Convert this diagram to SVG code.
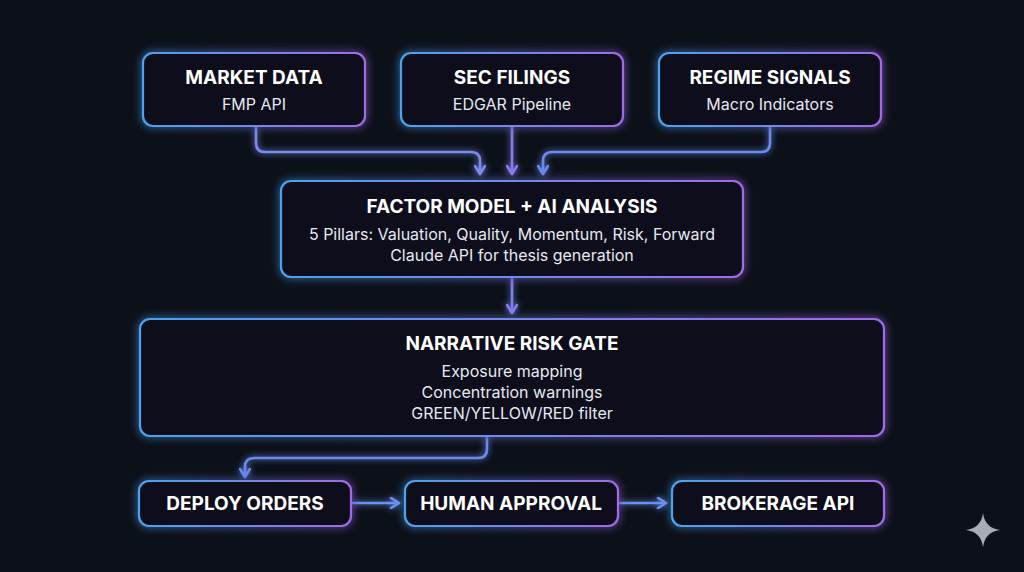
<svg xmlns="http://www.w3.org/2000/svg" width="1024" height="572" viewBox="0 0 1024 572">
<defs>
<linearGradient id="g" x1="0" y1="0" x2="1" y2="0"><stop offset="0" stop-color="#4aa3f0"/><stop offset="1" stop-color="#a06ae8"/></linearGradient>
<filter id="glow" x="-20%" y="-40%" width="140%" height="180%"><feGaussianBlur in="SourceGraphic" stdDeviation="4" result="b"/><feMerge><feMergeNode in="b"/><feMergeNode in="SourceGraphic"/></feMerge></filter>
<filter id="glowL" filterUnits="userSpaceOnUse" x="0" y="0" width="1024" height="572"><feGaussianBlur in="SourceGraphic" stdDeviation="3" result="b"/><feMerge><feMergeNode in="b"/><feMergeNode in="SourceGraphic"/></feMerge></filter>
<marker id="ah" viewBox="0 0 12 12" refX="10" refY="6" markerWidth="12" markerHeight="12" markerUnits="userSpaceOnUse" orient="auto"><path d="M2,1 L10,6 L2,11" fill="none" stroke="context-stroke" stroke-width="2.6" stroke-linecap="round" stroke-linejoin="round"/></marker>
</defs>
<style>
.box{fill:#0c111b;stroke:url(#g);stroke-width:2.2;filter:url(#glow)}
.t{font-family:Inter,"Liberation Sans",sans-serif;font-weight:700;font-size:19px;fill:#fff;text-anchor:middle}
.s{font-family:Inter,"Liberation Sans",sans-serif;font-size:16px;fill:#e6e9ef;text-anchor:middle}
.c{fill:none;stroke-width:2.6;stroke-linecap:round;stroke-linejoin:round;marker-end:url(#ah)}
</style>
<rect width="1024" height="572" fill="#0c1019"/>
<g id="connectors" filter="url(#glowL)">
<path class="c" stroke="#7a8cf0" d="M256,127 V143 Q256,152 265,152 H471 Q480,152 480,161 V174"/>
<path class="c" stroke="#8a7aee" d="M512,127 V174"/>
<path class="c" stroke="#6b8af0" d="M770,127 V143 Q770,152 761,152 H552 Q543,152 543,161 V174"/>
<path class="c" stroke="#7f80ee" d="M512,278 V313"/>
<path class="c" stroke="#6b8af0" d="M487,437 V449 Q487,458 478,458 H254 Q245,458 245,467 V477"/>
<path class="c" stroke="#6a90f0" d="M352,503 H399"/>
<path class="c" stroke="#6a90f0" d="M619,503 H666"/>
</g>
<g id="market"><rect class="box" x="143" y="53" width="222" height="73" rx="10"/><text class="t" x="254" y="84">MARKET DATA</text><text class="s" x="254" y="110">FMP API</text></g>
<g id="sec"><rect class="box" x="401" y="53" width="222" height="73" rx="10"/><text class="t" x="512" y="84">SEC FILINGS</text><text class="s" x="512" y="110">EDGAR Pipeline</text></g>
<g id="regime"><rect class="box" x="659" y="53" width="222" height="73" rx="10"/><text class="t" x="770" y="84">REGIME SIGNALS</text><text class="s" x="770" y="110">Macro Indicators</text></g>
<g id="factor"><rect class="box" x="281" y="181" width="462" height="96" rx="10"/><text class="t" x="512" y="213">FACTOR MODEL + AI ANALYSIS</text><text class="s" x="512" y="240">5 Pillars: Valuation, Quality, Momentum, Risk, Forward</text><text class="s" x="512" y="261">Claude API for thesis generation</text></g>
<g id="gate"><rect class="box" x="140" y="319" width="744" height="117" rx="10"/><text class="t" x="512" y="350">NARRATIVE RISK GATE</text><text class="s" x="512" y="377">Exposure mapping</text><text class="s" x="512" y="398">Concentration warnings</text><text class="s" x="512" y="419">GREEN/YELLOW/RED filter</text></g>
<g id="deploy"><rect class="box" x="139" y="481" width="212" height="45" rx="10"/><text class="t" x="245" y="510">DEPLOY ORDERS</text></g>
<g id="human"><rect class="box" x="405" y="481" width="213" height="45" rx="10"/><text class="t" x="511" y="510">HUMAN APPROVAL</text></g>
<g id="brokerage"><rect class="box" x="672" y="481" width="212" height="45" rx="10"/><text class="t" x="778" y="510">BROKERAGE API</text></g>
<path d="M983,513 Q985,528 1000,530 Q985,532 983,547 Q981,532 966,530 Q981,528 983,513 Z" fill="#a8acb4"/>
</svg>
